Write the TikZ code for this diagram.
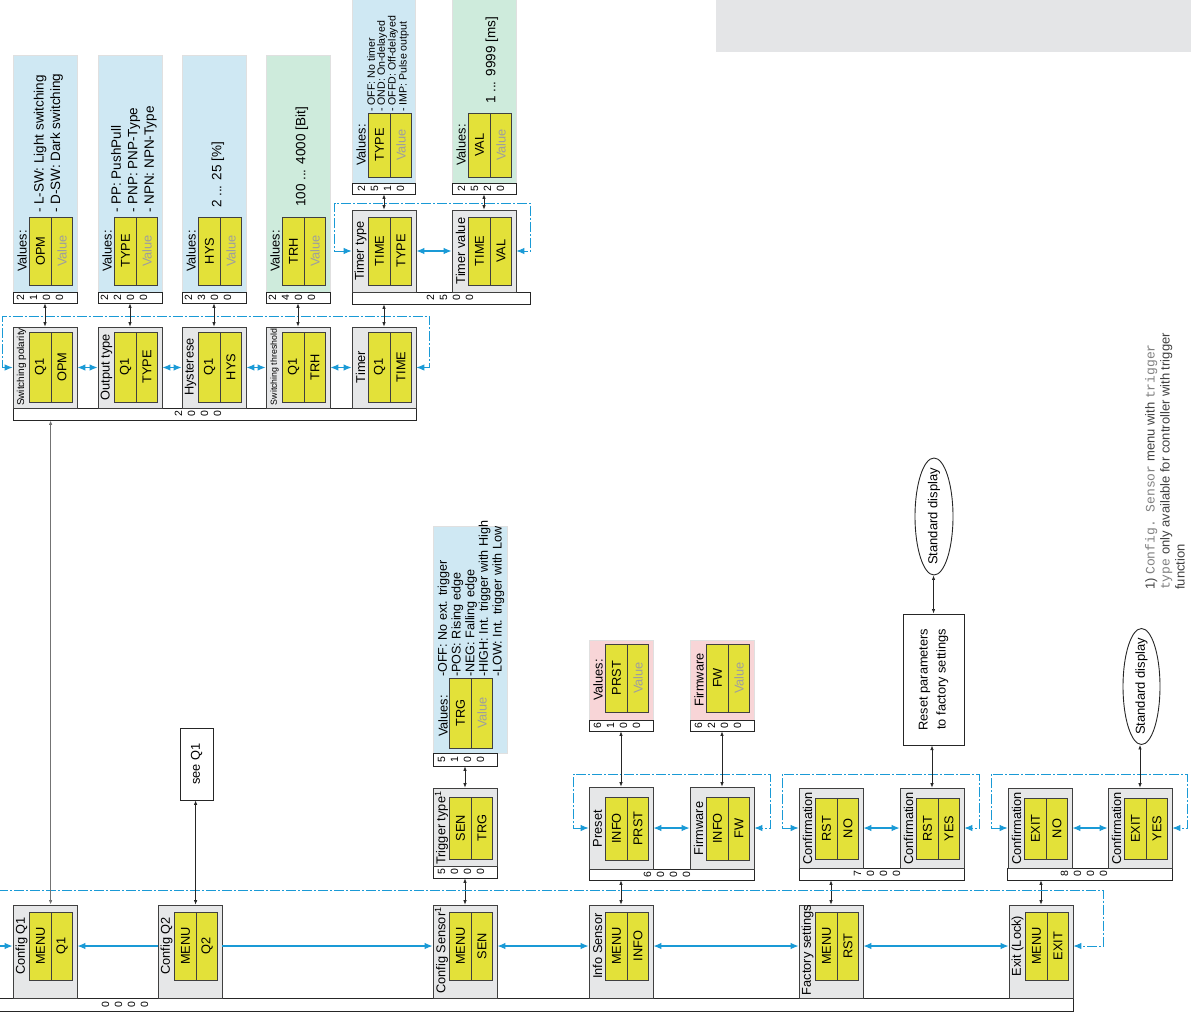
\documentclass[tikz,border=0pt]{standalone}
\usepackage{fontspec}
\setmainfont{Liberation Sans}
\setmonofont{Liberation Mono}
\usetikzlibrary{arrows.meta,shapes.geometric,calc}
\definecolor{ycol}{HTML}{E3E139}
\definecolor{boxgray}{HTML}{E6E7E8}
\definecolor{pblue}{HTML}{CFE8F3}
\definecolor{pgreen}{HTML}{CEEBDC}
\definecolor{ppink}{HTML}{F8D5D7}
\definecolor{bluec}{HTML}{1A9AD6}
\definecolor{topgray}{HTML}{E4E5E7}
\tikzset{
 mbox/.style={draw=black!75, fill=boxgray, line width=0.8pt, inner sep=0pt},
 ycell/.style={rotate=90, draw=black!75, fill=ycol, line width=0.7pt, minimum height=21.5pt, inner sep=0pt, font=\fontsize{12.8}{14}\selectfont},
 lbl/.style={rotate=90, inner sep=0pt, font=\fontsize{12.8}{14}\selectfont},
 panel/.style={draw=black!12, line width=0.5pt, inner sep=0pt},
 nbar/.style={draw=black!85, fill=white, line width=0.8pt, inner sep=0pt},
 digs/.style={rotate=90, align=center, inner sep=0pt, font=\fontsize{10.5}{13}\selectfont},
 desc/.style={rotate=90, align=left, anchor=west, inner sep=0pt, font=\fontsize{13.5}{16.5}\selectfont},
 barr/.style={draw=black!85, line width=0.7pt, {Latex[length=4.5pt,width=3.5pt]}-{Latex[length=4.5pt,width=3.5pt]}},
 bl/.style={draw=bluec, line width=1.1pt},
 dd/.style={draw=bluec, line width=0.9pt, dash pattern=on 10pt off 2pt on 2pt off 2pt},
}
\newcommand\MItem[9]{%
 \node[mbox, minimum width=64pt, minimum height={#4-#3}] (#1) at ({#2+32},{(#3+#4)/2}) {};
 \node[ycell, minimum width={#6-#5}] (#1a) at ({#2+27.5},{(#5+#6)/2}) {#8};
 \node[ycell, minimum width={#6-#5}] (#1b) at ({#2+49},{(#5+#6)/2}) {#9};
 \node[lbl] (#1l) at ({#2+8.5},{(#5+#6)/2}) {#7};
}
\newcommand\VCells[5]{%
 \node[ycell, minimum width={#4-#3}] (#1a) at ({#2+27.5},{(#3+#4)/2}) {#5};
 \node[ycell, minimum width={#4-#3}, text=black!38] (#1b) at ({#2+49},{(#3+#4)/2}) {Value};
}
\newcommand\VPanel[6]{%
 \node[panel, fill=#6, minimum width={#3-#2}, minimum height={#5-#4}] (#1) at ({(#2+#3)/2},{(#4+#5)/2}) {};
}
\newcommand\NBar[7]{%
 \node[nbar, minimum width={#3-#2}, minimum height={#5-#4}] (#1) at ({(#2+#3)/2},{(#4+#5)/2}) {};
 \node[digs] (#1d) at (#7,{(#4+#5)/2}) {#6};
}
\begin{document}
\begin{tikzpicture}[x=1pt,y=-1pt,>={Latex[length=8pt,width=6.5pt]}]
\useasboundingbox (0,0) rectangle (1191,1017);
\node[fill=topgray, inner sep=0pt, minimum width=475pt, minimum height=52pt, anchor=north west] (hdr) at (716,0) {};

% ---------- value panels ----------
\VPanel{p21}{13}{77}{55}{292}{pblue}
\VPanel{p22}{98}{162}{55}{292}{pblue}
\VPanel{p23}{182}{246}{55}{292}{pblue}
\VPanel{p24}{266}{330}{55}{292}{pgreen}
\VPanel{p251}{352}{415}{-3}{183}{pblue}
\VPanel{p252}{452}{516}{-3}{183}{pgreen}
\VPanel{p51}{433}{507}{526}{753}{pblue}
\VPanel{p61}{589}{653}{640}{720}{ppink}
\VPanel{p62}{690}{754}{640}{720}{ppink}

\VCells{v21}{13}{217}{285}{OPM}
\VCells{v22}{98}{217}{285}{TYPE}
\VCells{v23}{182}{217}{285}{HYS}
\VCells{v24}{266}{217}{285}{TRH}
\VCells{v251}{352}{113}{177}{TYPE}
\VCells{v252}{452}{113}{177}{VAL}
\VCells{v51}{433}{678}{748}{TRG}
\VCells{v61}{589}{644}{712}{PRST}
\VCells{v62}{690}{644}{712}{FW}

\node[lbl] (v21l) at (22,251) {Values:};
\node[lbl] (v22l) at (107,251) {Values:};
\node[lbl] (v23l) at (191,251) {Values:};
\node[lbl] (v24l) at (275,251) {Values:};
\node[lbl] (v251l) at (361,145) {Values:};
\node[lbl] (v252l) at (461,145) {Values:};
\node[lbl] (v51l) at (443,716) {Values:};
\node[lbl] (v61l) at (598,680) {Values:};
\node[lbl] (v62l) at (699,680) {Firmware};

\node[desc] (d21) at (48.5,213) {- L-SW: Light switching\\- D-SW: Dark switching};
\node[desc] (d22) at (134,213) {- PP: PushPull\\- PNP: PNP-Type\\- NPN: NPN-Type};
\node[desc] (d23) at (218,208) {2 ... 25 [\%]};
\node[desc] (d24) at (302,207) {100 ... 4000 [Bit]};
\node[desc, font=\fontsize{10.6}{9.8}\selectfont] (d251) at (388,112) {- OFF: No timer\\- OND: On-delayed\\- OFFD: Off-delayed\\- IMP: Pulse output};
\node[desc] (d252) at (492,104) {1 ... 9999 [ms]};
\node[desc, font=\fontsize{12.6}{13.7}\selectfont] (d51) at (471,677) {-OFF: No ext. trigger\\-POS: Rising edge\\-NEG: Falling edge\\-HIGH: Int. trigger with High\\-LOW: Int. trigger with Low};

% ---------- number bars ----------
\NBar{b00}{-5}{1073}{998}{1011}{0\\0\\0\\0}{125}
\NBar{b20}{13}{416}{408}{420}{2\\0\\0\\0}{198}
\NBar{b21}{13}{77}{292}{303}{2\\1\\0\\0}{40}
\NBar{b22}{98}{162}{292}{303}{2\\2\\0\\0}{124}
\NBar{b23}{182}{246}{292}{303}{2\\3\\0\\0}{208}
\NBar{b24}{266}{330}{292}{303}{2\\4\\0\\0}{292}
\NBar{b25}{352}{530}{292}{304}{2\\5\\0\\0}{450}
\NBar{b251}{352}{415}{183}{194}{2\\5\\1\\0}{381}
\NBar{b252}{452}{516}{183}{194}{2\\5\\2\\0}{481}
\NBar{b50}{433}{497}{866}{878}{5\\0\\0\\0}{461}
\NBar{b51}{433}{497}{753}{766}{5\\1\\0\\0}{461}
\NBar{b60}{589}{754}{869}{880}{6\\0\\0\\0}{667}
\NBar{b61}{589}{653}{720}{731}{6\\1\\0\\0}{617}
\NBar{b62}{690}{754}{720}{731}{6\\2\\0\\0}{718}
\NBar{b70}{799}{964}{868}{880}{7\\0\\0\\0}{877}
\NBar{b80}{1007}{1172}{868}{880}{8\\0\\0\\0}{1084}

% ---------- menu items ----------
\MItem{q1}{13}{905}{998}{912}{980}{Config Q1}{MENU}{Q1}
\MItem{q2}{158}{905}{998}{912}{980}{Config Q2}{MENU}{Q2}
\MItem{cs}{433}{905}{998}{912}{980}{Config Sensor\textsuperscript{1}\hspace*{9pt}}{MENU}{SEN}
\MItem{is}{589}{905}{998}{912}{980}{Info Sensor}{MENU}{INFO}
\MItem{fs}{799}{905}{998}{912}{980}{Factory settings\hspace*{8pt}}{MENU}{RST}
\MItem{ex}{1009}{905}{998}{912}{980}{Exit (Lock)}{MENU}{EXIT}

\MItem{sp}{13}{327}{408}{332}{402}{{\fontsize{10}{11}\selectfont Switching polarity}}{Q1}{OPM}
\MItem{ot}{98}{327}{408}{332}{402}{Output type}{Q1}{TYPE}
\MItem{hy}{182}{327}{408}{332}{402}{Hysterese}{Q1}{HYS}
\MItem{st}{266}{327}{408}{332}{402}{{\fontsize{8.8}{10}\selectfont Switching threshold}}{Q1}{TRH}
\MItem{ti}{352}{327}{408}{332}{402}{Timer}{Q1}{TIME}

\MItem{tt}{352}{210}{292}{217}{285}{Timer type}{TIME}{TYPE}
\MItem{tv}{452}{210}{292}{217}{285}{Timer value}{TIME}{VAL}

\MItem{tr}{433}{788}{866}{797}{859}{Trigger type\textsuperscript{1}}{SEN}{TRG}

\MItem{pr}{589}{787}{869}{797}{860}{Preset}{INFO}{PRST}
\MItem{fw}{690}{787}{869}{797}{860}{Firmware}{INFO}{FW}

\MItem{ca}{799}{788}{868}{798}{859}{Confirmation}{RST}{NO}
\MItem{cb}{900}{788}{868}{798}{859}{Confirmation}{RST}{YES}
\MItem{cc}{1008}{788}{868}{798}{859}{Confirmation}{EXIT}{NO}
\MItem{cd}{1108}{788}{868}{798}{859}{Confirmation}{EXIT}{YES}

% ---------- other nodes ----------
\node[draw=black!85, line width=0.8pt, rotate=90, minimum width=72pt, minimum height=33pt, inner sep=0pt, font=\fontsize{12.8}{14}\selectfont] (seeq1) at (196.5,764) {see Q1};
\node[draw=black!85, line width=1pt, rotate=90, minimum width=131pt, minimum height=61pt, inner sep=0pt, align=center, font=\fontsize{12.8}{18}\selectfont] (reset) at (933.5,679.5) {Reset parameters\\to factory settings};
\node[draw=black!85, line width=0.9pt, ellipse, rotate=90, minimum width=117pt, minimum height=38pt, inner sep=0pt] (sd1) at (934,516.5) {};
\node[lbl, font=\fontsize{13}{14}\selectfont] (sd1t) at (sd1) {Standard display};
\node[draw=black!85, line width=0.9pt, ellipse, rotate=90, minimum width=116pt, minimum height=37pt, inner sep=0pt] (sd2) at (1141.5,686.5) {};
\node[lbl, font=\fontsize{13}{14}\selectfont] (sd2t) at (sd2) {Standard display};

\node[rotate=90, anchor=north west, align=left, inner sep=0pt, text=black!75, font=\fontsize{13}{15}\selectfont] (fn) at (1145,590)
 {1) {\color{black!50}\ttfamily Config. Sensor} menu with {\color{black!50}\ttfamily trigger}\\{\color{black!50}\ttfamily type} only available for controller with trigger\\function};

% ---------- connectors: group 2 ----------
\draw[bl,<->] (sp.east) -- (ot.west);
\draw[bl,<->] (ot.east) -- (hy.west);
\draw[bl,<->] (hy.east) -- (st.west);
\draw[bl,<->] (st.east) -- (ti.west);
\draw[dd,<->] (sp.west) -- ++(-10,0) |- ($(ti.east)+(13,-51.5)$) |- (ti.east);
\draw[barr] (sp.north) -- (sp.north |- b21.south);
\draw[barr] (ot.north) -- (ot.north |- b22.south);
\draw[barr] (hy.north) -- (hy.north |- b23.south);
\draw[barr] (st.north) -- (st.north |- b24.south);
\draw[barr] (ti.north) -- (ti.north |- b25.south);

% timer group
\draw[bl,<->] (tt.east) -- (tv.west);
\draw[dd,<->] (tt.west) -- ++(-17,0) |- ($(tv.east)+(14,-48)$) |- (tv.east);
\draw[barr] (tt.north) -- (tt.north |- b251.south);
\draw[barr] (tv.north) -- (tv.north |- b252.south);

% group 5
\draw[barr] (cs.north) -- (cs.north |- b50.south);
\draw[barr] (tr.north) -- (tr.north |- b51.south);

% group 6
\draw[bl,<->] (pr.east) -- (fw.west);
\draw[dd,<->] (pr.west) -- ++(-15,0) |- ($(fw.east)+(16,-54)$) |- (fw.east);
\draw[barr] (is.north) -- (is.north |- b60.south);
\draw[barr] (pr.north) -- (pr.north |- b61.south);
\draw[barr] (fw.north) -- (fw.north |- b62.south);

% group 7
\draw[bl,<->] (ca.east) -- (cb.west);
\draw[dd,<->] (ca.west) -- ++(-16,0) |- ($(cb.east)+(15,-54)$) |- (cb.east);
\draw[barr] (fs.north) -- (fs.north |- b70.south);
\draw[barr] (cb.north) -- (cb.north |- reset.west);
\draw[barr] (reset.east) -- (reset.east |- sd1.west);

% group 8
\draw[bl,<->] (cc.east) -- (cd.west);
\draw[dd,<->] (cc.west) -- ++(-16,0) |- ($(cd.east)+(15,-54)$) |- (cd.east);
\draw[barr] (ex.north) -- (ex.north |- b80.south);
\draw[barr] (cd.north) -- (cd.north |- sd2.west);

% main row
\coordinate (lin) at (0,946);
\coordinate (ltop) at (-2,890);
\coordinate (q1up) at ($(q1.north west)+(38,0)$);
\coordinate (q2up) at ($(q2.north west)+(38,0)$);
\draw[bl,->] (lin) -- (q1.west |- q1a);
\draw[bl,->] (q2.west |- q2a) -- (q1.east |- q1a);
\draw[bl,->] (q2.east |- q2a) -- (cs.west |- csa);
\draw[bl,<->] (cs.east |- csa) -- (is.west |- isa);
\draw[bl,<->] (is.east |- isa) -- (fs.west |- fsa);
\draw[bl,<->] (fs.east |- fsa) -- (ex.west |- exa);
\draw[dd,->] (ltop) -| ($(ex.east |- exa)+(30,0)$) -- (ex.east |- exa);
\draw[barr, draw=black!55, line width=1.6pt] (q1up) -- (q1up |- b20.south);
\draw[barr] (q2up) -- (q2up |- seeq1.west);
\end{tikzpicture}
\end{document}
